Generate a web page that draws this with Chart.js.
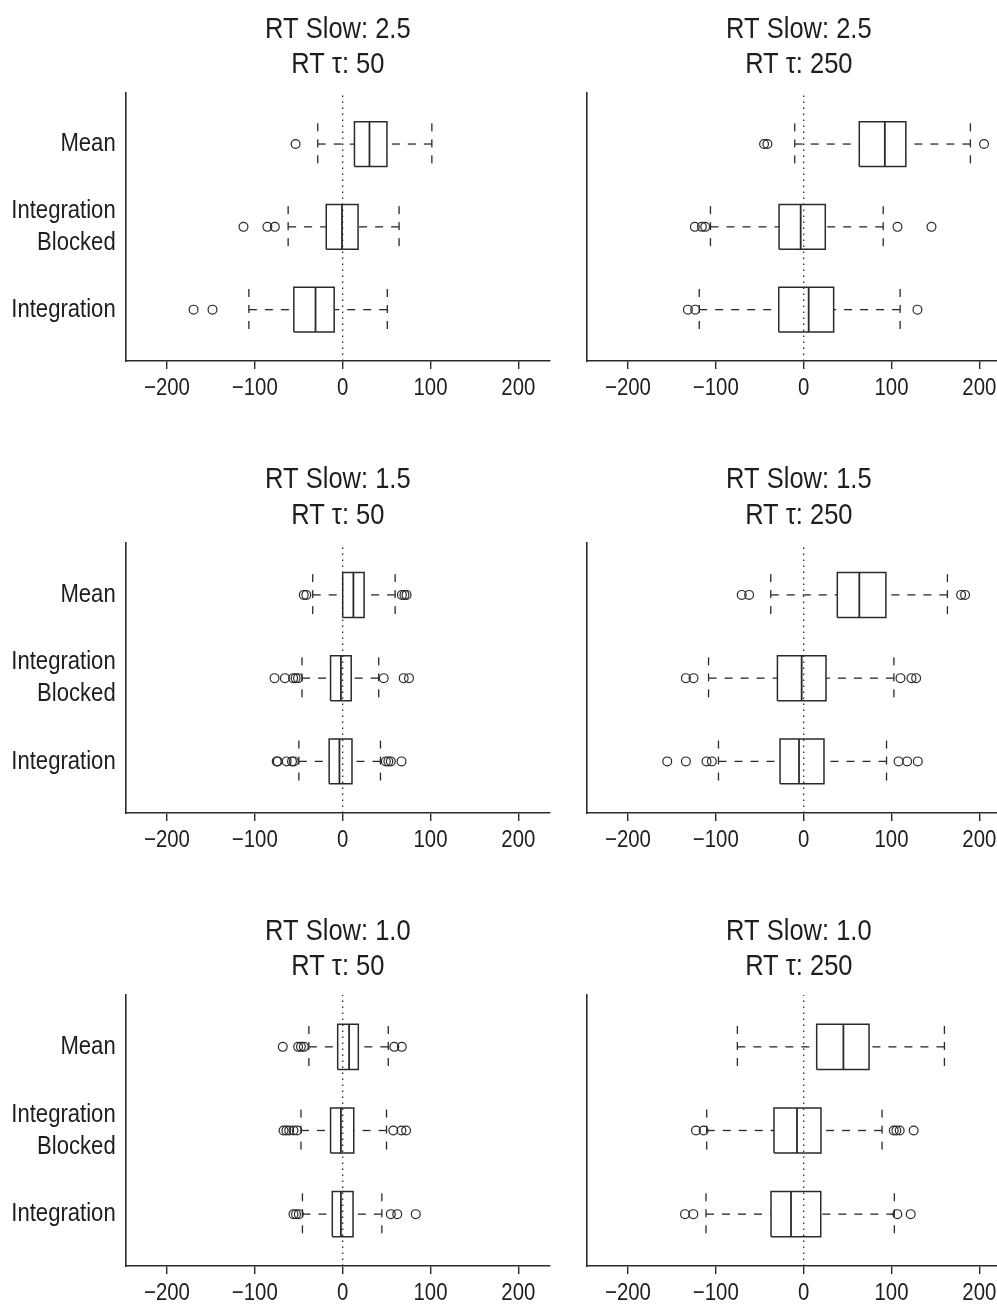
<!DOCTYPE html>
<html>
<head>
<meta charset="utf-8">
<script src="https://cdn.jsdelivr.net/npm/chart.js@4.4.1/dist/chart.umd.min.js"></script>
<style>
  html, body { margin: 0; padding: 0; background: #fff; width: 997px; height: 1307px; overflow: hidden; position: relative; }
  canvas { position: absolute; }
</style>
</head>
<body>
<script>
// ---------------- DATA ----------------
// Panel order: [Slow 2.5 / tau 50, Slow 2.5 / tau 250, Slow 1.5 / tau 50, Slow 1.5 / tau 250, Slow 1.0 / tau 50, Slow 1.0 / tau 250]
const RT_SLOW = ['2.5', '2.5', '1.5', '1.5', '1.0', '1.0'];
const RT_TAU = ['50', '250', '50', '250', '50', '250'];
// Groups (bottom to top): Integration, Integration Blocked, Mean
const GROUPS = ['Integration', 'Integration\nBlocked', 'Mean'];
const X_TICKS = [-200, -100, 0, 100, 200];

// Each row: [Integration, Integration Blocked, Mean]
const LOWER = [
  [-106.8, -62.1, -28.4],
  [-118.9, -106.1, -10.2],
  [-49.9, -46.3, -34.1],
  [-97.0, -108.3, -37.5],
  [-45.8, -47.5, -38.5],
  [-111.2, -110.4, -75.5]
];
const Q1 = [
  [-55.6, -18.7, 13.4],
  [-28.4, -28.0, 63.3],
  [-15.4, -13.8, 0.0],
  [-26.9, -29.9, 38.3],
  [-11.8, -13.8, -5.7],
  [-37.2, -33.8, 14.8]
];
const MEDIAN = [
  [-30.9, -0.8, 30.5],
  [5.7, -3.4, 92.4],
  [-3.7, -2.0, 12.2],
  [-5.3, -2.3, 63.3],
  [-2.0, -2.0, 7.3],
  [-14.4, -7.6, 45.2]
];
const Q3 = [
  [-9.7, 17.5, 50.4],
  [34.1, 24.6, 116.3],
  [10.6, 9.7, 24.4],
  [23.1, 25.4, 93.6],
  [11.8, 12.6, 17.8],
  [19.4, 19.7, 74.4]
];
const UPPER = [
  [50.8, 64.2, 101.5],
  [109.8, 90.5, 189.8],
  [43.0, 41.0, 59.7],
  [94.3, 102.7, 163.6],
  [44.6, 49.9, 51.9],
  [103.2, 89.2, 160.2]
];
const OUTLIERS = [
  [[-169.7, -148.2], [-112.9, -85.7, -77.2], [-53.6]],
  [[-131.8, -123.5, 129.5], [-123.9, -115.9, -112.1, 106.8, 145.5], [-45.1, -41.3, 205.3]],
  [[-75.1, -73.9, -63.8, -57.7, -55.6, 49.1, 52.0, 54.8, 67.0], [-77.6, -65.8, -56.4, -53.6, -50.8, 46.7, 69.4, 75.5], [-44.3, -41.4, 67.4, 70.3, 72.7]],
  [[-155.3, -134.1, -110.6, -104.5, 108.0, 117.8, 129.9], [-134.1, -125.4, 110.2, 122.7, 128.0], [-70.5, -62.1, 179.2, 183.7]],
  [[-56.0, -53.1, -49.9, 54.8, 62.1, 83.2], [-67.3, -64.1, -60.9, -56.0, -51.9, 57.6, 66.9, 72.2], [-68.2, -50.7, -47.5, -44.2, 58.8, 67.3]],
  [[-135.1, -125.6, 106.6, 121.8], [-122.6, -113.9, 102.5, 105.5, 109.3, 125.2], []]
];

// ---------------- CONDENSED TEXT (no narrow font installed) ----------------
const SQUEEZE = 0.85;
(function () {
  const proto = CanvasRenderingContext2D.prototype;
  const origFill = proto.fillText, origMeasure = proto.measureText;
  proto.fillText = function (text, x, y, maxWidth) {
    this.save();
    this.translate(x, y);
    this.scale(SQUEEZE, 1);
    if (maxWidth === undefined) origFill.call(this, text, 0, 0);
    else origFill.call(this, text, 0, 0, maxWidth / SQUEEZE);
    this.restore();
  };
  proto.measureText = function (text) {
    const m = origMeasure.call(this, text);
    return {
      width: m.width * SQUEEZE,
      actualBoundingBoxAscent: m.actualBoundingBoxAscent,
      actualBoundingBoxDescent: m.actualBoundingBoxDescent,
      actualBoundingBoxLeft: m.actualBoundingBoxLeft * SQUEEZE,
      actualBoundingBoxRight: m.actualBoundingBoxRight * SQUEEZE
    };
  };
})();

// ---------------- LAYOUT / STYLE ----------------
const FONT = "'Liberation Sans', Arial, sans-serif";
const INK = '#1e1e1e';
const LINE = '#2a2a2a';
const X_MIN = -247, X_MAX = 236;
const Y_MIN = 0.38, Y_MAX = 3.62;
const BOX_HALF = 0.27, CAP_HALF = 0.25;
const PLOT_TOP = [92.7, 543.3, 995];
const PLOT_BOTTOM = [361, 813.3, 1266];
const PLOT_W = 424.3;
const COL = [
  { left: 0, width: 560, yw: 125.7 },
  { left: 560, width: 460, yw: 26.7 }
];
const TITLE_SIZE = 30, TITLE_LH = 1.17;
const XAXIS_H = 42;

function seg(a, b, opts) {
  return Object.assign({
    type: 'scatter', data: [a, b], showLine: true, pointRadius: 0,
    borderColor: LINE, borderWidth: 1.3, fill: false
  }, opts || {});
}

function buildPanel(p) {
  const row = Math.floor(p / 2), col = p % 2;
  const c = COL[col];
  const titleH = 2 * TITLE_SIZE * TITLE_LH;
  const canvasTop = Math.floor(PLOT_TOP[row] - titleH - 11);
  const padTop = PLOT_TOP[row] - canvasTop - titleH - 10.5;
  const height = Math.round(PLOT_BOTTOM[row] - canvasTop + XAXIS_H);
  const padRight = c.width - c.yw - PLOT_W;

  const cv = document.createElement('canvas');
  cv.width = c.width; cv.height = height;
  cv.style.left = c.left + 'px'; cv.style.top = canvasTop + 'px';
  cv.style.width = c.width + 'px'; cv.style.height = height + 'px';
  document.body.appendChild(cv);

  const datasets = [];
  // dotted zero reference line
  datasets.push(seg({ x: 0, y: Y_MIN }, { x: 0, y: Y_MAX }, { borderDash: [1.5, 4.5], borderWidth: 1.3 }));
  const outPts = [];
  for (let g = 0; g < 3; g++) {
    const y = g + 1;
    const lo = LOWER[p][g], a = Q1[p][g], m = MEDIAN[p][g], b = Q3[p][g], hi = UPPER[p][g];
    // whiskers
    datasets.push(seg({ x: lo, y }, { x: a, y }, { borderDash: [8, 8] }));
    datasets.push(seg({ x: hi, y }, { x: b, y }, { borderDash: [8, 8] }));
    // staples
    datasets.push(seg({ x: lo, y: y + CAP_HALF }, { x: lo, y: y - CAP_HALF }, { borderDash: [8, 8] }));
    datasets.push(seg({ x: hi, y: y + CAP_HALF }, { x: hi, y: y - CAP_HALF }, { borderDash: [8, 8] }));
    // box
    datasets.push({
      type: 'scatter', showLine: true, pointRadius: 0, borderColor: LINE, borderWidth: 1.5, fill: false,
      data: [{ x: a, y: y - BOX_HALF }, { x: b, y: y - BOX_HALF }, { x: b, y: y + BOX_HALF }, { x: a, y: y + BOX_HALF }, { x: a, y: y - BOX_HALF }]
    });
    // median
    datasets.push(seg({ x: m, y: y - BOX_HALF }, { x: m, y: y + BOX_HALF }, { borderWidth: 1.8 }));
    OUTLIERS[p][g].forEach(v => outPts.push({ x: v, y }));
  }
  datasets.push({
    type: 'scatter', data: outPts, showLine: false, pointRadius: 4.4, pointStyle: 'circle',
    pointBorderWidth: 1.2, pointBorderColor: LINE, pointBackgroundColor: 'rgba(0,0,0,0)'
  });

  new Chart(cv, {
    type: 'scatter',
    data: { datasets },
    options: {
      responsive: false, animation: false, devicePixelRatio: 1, events: [],
      layout: { padding: { left: 0, right: padRight, top: padTop, bottom: 0 } },
      plugins: {
        legend: { display: false }, tooltip: { enabled: false },
        title: {
          display: true, fullSize: false, color: INK,
          text: ['RT Slow: ' + RT_SLOW[p], 'RT \u03C4: ' + RT_TAU[p]],
          font: { family: FONT, size: TITLE_SIZE, weight: 'normal', lineHeight: TITLE_LH },
          padding: { top: 0, bottom: 10.5 }
        }
      },
      scales: {
        x: {
          type: 'linear', position: 'bottom', min: X_MIN, max: X_MAX,
          afterBuildTicks: s => { s.ticks = X_TICKS.map(v => ({ value: v })); },
          afterFit: s => { s.height = XAXIS_H; },
          grid: { display: true, drawOnChartArea: false, drawTicks: true, tickLength: 8, color: LINE, lineWidth: 1.4 },
          border: { display: true, color: LINE, width: 1.6 },
          ticks: {
            padding: 5, color: INK, maxRotation: 0, autoSkip: false,
            font: { family: FONT, size: 24 },
            callback: v => (v < 0 ? '\u2212' + Math.abs(v) : String(v))
          }
        },
        y: {
          type: 'linear', position: 'left', min: Y_MIN, max: Y_MAX,
          afterBuildTicks: s => { s.ticks = [1, 2, 3].map(v => ({ value: v })); },
          afterFit: s => { s.width = c.yw; },
          grid: { display: false, drawTicks: false },
          border: { display: true, color: LINE, width: 1.6 },
          ticks: {
            display: col === 0, padding: 10, color: INK, autoSkip: false,
            font: { family: FONT, size: 26, lineHeight: 1.23 },
            callback: v => { const t = GROUPS[v - 1]; return t.indexOf('\n') >= 0 ? t.split('\n') : t; }
          }
        }
      }
    }
  });
}

for (let p = 0; p < 6; p++) buildPanel(p);
</script>
</body>
</html>
